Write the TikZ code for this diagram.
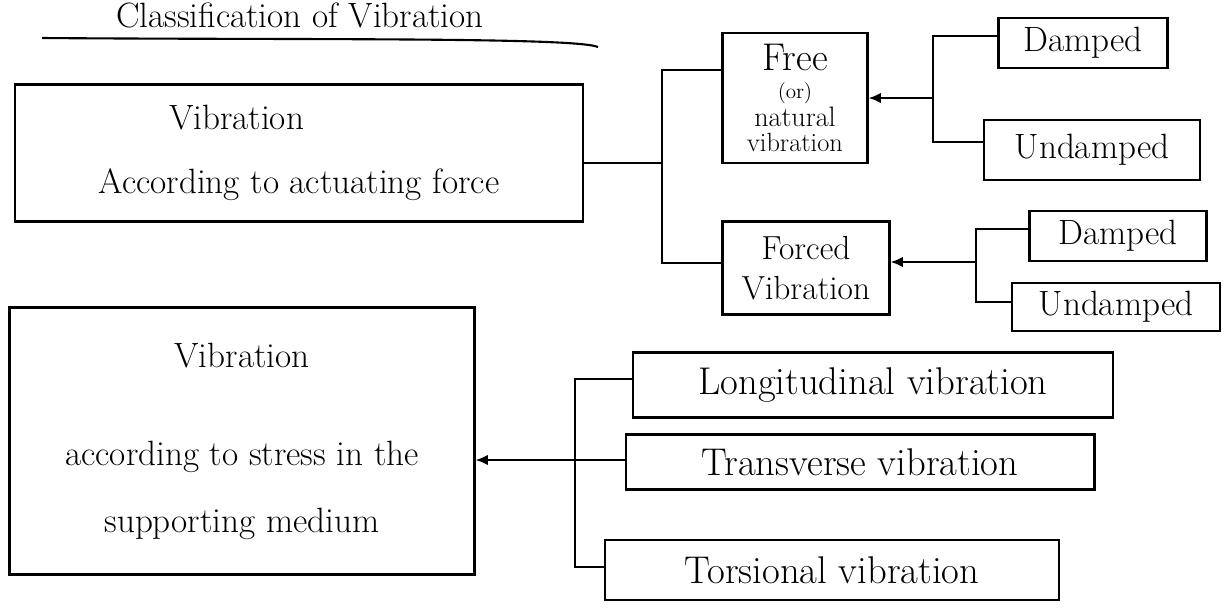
\documentclass[tikz,border=0pt]{standalone}
\usetikzlibrary{arrows.meta}
\tikzset{
  box/.style={draw, line width=1.2pt, inner sep=2pt, align=center},
  bigtext/.style={font=\fontsize{20}{24}\selectfont},
  hugetext/.style={font=\fontsize{22}{26}\selectfont},
  conn/.style={line width=1.2pt},
  arr/.style={line width=1.2pt, -{Latex[length=7pt,width=6pt]}},
}
\begin{document}
\begin{tikzpicture}[x=0.02cm,y=-0.02cm]
\useasboundingbox (0,0) rectangle (1223,613);
\fill[white] (0,0) rectangle (1223,613);
% title
\node[bigtext] (title) at (300,15) {Classification of Vibration};
\coordinate (ulA) at (42,38);
\coordinate (ulB) at (598,47);
\draw[conn] (ulA) .. controls (300,40) and (575,37) .. (ulB);
% upper classification
\node[box, bigtext, minimum width=11.36cm, minimum height=2.74cm] (actA) at (299,153)
  {\hspace*{-2.5cm}Vibration\\[12pt] According to actuating force};
\node[box, font=\fontsize{16}{17}\selectfont, minimum width=2.9cm, minimum height=2.6cm, inner sep=1pt] (free) at (795,98)
  {{\fontsize{22}{22}\selectfont Free}\\[-1pt] {\fontsize{12}{12}\selectfont (or)}\\[-1pt] natural\\[-3pt] {\fontsize{15}{15}\selectfont vibration}};
\node[box, font=\fontsize{19}{23}\selectfont, minimum width=3.34cm, minimum height=1.86cm] (forced) at (806,268)
  {Forced\\ Vibration};
\node[box, bigtext, minimum width=3.38cm, minimum height=1.0cm] (d1) at (1083,43) {Damped};
\node[box, bigtext, minimum width=4.32cm, minimum height=1.2cm] (u1) at (1092,150) {Undamped};
\node[box, bigtext, minimum width=3.54cm, minimum height=1.0cm] (d2) at (1118,236) {Damped};
\node[box, bigtext, minimum width=4.16cm, minimum height=0.96cm] (u2) at (1116,307) {Undamped};
% bracket 1
\coordinate (b1t) at (662,70);
\coordinate (b1b) at (662,263);
\coordinate (b1m) at (662,163);
\draw[conn] (actA.east |- b1m) -- (b1m);
\draw[conn] (free.west |- b1t) -- (b1t) -- (b1b) -- (forced.west |- b1b);
% bracket 2
\coordinate (b2t) at (933,36);
\coordinate (b2b) at (933,142);
\coordinate (b2m) at (933,98);
\draw[conn] (d1.west |- b2t) -- (b2t) -- (b2b) -- (u1.west |- b2b);
\draw[arr] (b2m) -- (free.east |- b2m);
% bracket 3
\coordinate (b3t) at (976,229);
\coordinate (b3b) at (976,302);
\coordinate (b3m) at (976,262);
\draw[conn] (d2.west |- b3t) -- (b3t) -- (b3b) -- (u2.west |- b3b);
\draw[arr] (b3m) -- (forced.east |- b3m);
% lower classification
\node[box, bigtext, minimum width=9.3cm, minimum height=5.34cm] (stressB) at (242,441)
  {Vibration\\[32pt] according to stress in the\\[14pt] supporting medium};
\node[box, hugetext, minimum width=9.6cm, minimum height=1.3cm] (long) at (873,385) {Longitudinal vibration};
\node[box, hugetext, minimum width=9.38cm, minimum height=1.1cm] (trans) at (860,462) {Transverse vibration};
\node[box, hugetext, minimum width=9.08cm, minimum height=1.2cm] (tors) at (832,570) {Torsional vibration};
% bracket 4
\coordinate (b4t) at (575,379);
\coordinate (b4b) at (575,567);
\coordinate (b4m) at (575,460);
\draw[arr] (b4m) -- (stressB.east |- b4m);
\draw[conn] (long.west |- b4t) -- (b4t) -- (b4b) -- (tors.west |- b4b);
\draw[conn] (b4m) -- (trans.west |- b4m);
\end{tikzpicture}
\end{document}
